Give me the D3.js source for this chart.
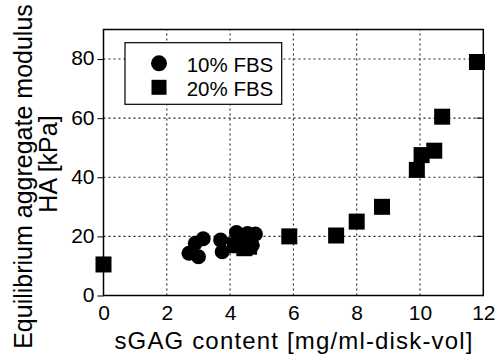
<!DOCTYPE html>
<html><head><meta charset="utf-8">
<script src="https://cdn.jsdelivr.net/npm/d3@7"></script>
<style>body{margin:0;background:#fff}svg{display:block}text{font-family:"Liberation Sans",Arial,sans-serif;fill:#000}</style>
</head><body><div id="chart"></div>
<script>
const seriesNames = ["10% FBS", "20% FBS"];
const fbs10 = [[2.7,14.3],[3.0,13.1],[2.9,17.7],[3.15,19.2],[3.7,18.8],[3.75,14.8],[4.2,21.3],[4.35,19.0],[4.5,20.0],[4.8,20.8],[4.7,17.0],[4.55,21.0]];
const fbs20 = [[0.0,10.5],[4.15,17.0],[4.45,16.0],[4.6,16.5],[5.87,20.0],[7.35,20.3],[8.0,25.0],[8.8,30.0],[9.9,42.5],[10.05,47.5],[10.45,49.0],[10.7,60.5],[11.8,79.0]];
const xTicks = [0,2,4,6,8,10,12];
const yTicks = [0,20,40,60,80];
const xTitle = "sGAG content [mg/ml-disk-vol]";
const yTitle = ["Equilibrium aggregate modulus", "HA [kPa]"];

const W = 495, H = 358;
const L = 103.5, R = 483.3, T = 29.5, B = 295.5;
const svg = d3.select("#chart").append("svg").attr("width", W).attr("height", H);
const x = d3.scaleLinear().domain([0,12]).range([L,R]);
const y = d3.scaleLinear().domain([0,90]).range([B,T]);

// grid
const g = svg.append("g");
g.selectAll(".gx").data(xTicks.filter(d=>d>0&&d<12)).enter().append("line")
  .attr("x1",d=>x(d)).attr("x2",d=>x(d)).attr("y1",B).attr("y2",T)
  .attr("stroke","#222").attr("stroke-width",1.1).attr("stroke-dasharray","2,3");
g.selectAll(".gy").data(yTicks.filter(d=>d>0)).enter().append("line")
  .attr("x1",L).attr("x2",R).attr("y1",d=>y(d)).attr("y2",d=>y(d))
  .attr("stroke","#222").attr("stroke-width",1.1).attr("stroke-dasharray","2,3");
// right inner ticks
g.selectAll(".rt").data(yTicks.filter(d=>d>0)).enter().append("line")
  .attr("x1",R-7).attr("x2",R).attr("y1",d=>y(d)).attr("y2",d=>y(d))
  .attr("stroke","#000").attr("stroke-width",1);

// axes
const yAxis = d3.axisLeft(y).tickValues(yTicks).tickSize(6).tickPadding(3);
const ya = svg.append("g").attr("transform",`translate(${L},0)`).call(yAxis);
ya.select(".domain").remove();
ya.selectAll("text").style("font-size","21px").attr("dy","0.28em");
ya.selectAll("line").attr("stroke","#000");

const xAxis = d3.axisBottom(x).tickValues(xTicks).tickSize(0).tickPadding(10);
const xa = svg.append("g").attr("transform",`translate(0,${B})`).call(xAxis);
xa.select(".domain").remove();
xa.selectAll("text").style("font-size","21px").attr("dy","0.71em");

// frame
svg.append("rect").attr("x",L).attr("y",T).attr("width",R-L).attr("height",B-T)
  .attr("fill","none").attr("stroke","#000").attr("stroke-width",1.5);

// points
svg.append("g").selectAll("circle").data(fbs10).enter().append("circle")
  .attr("cx",d=>x(d[0])).attr("cy",d=>y(d[1])).attr("r",7.5).attr("fill","#000");
const s = 16;
svg.append("g").selectAll("rect").data(fbs20).enter().append("rect")
  .attr("x",d=>x(d[0])-s/2).attr("y",d=>y(d[1])-s/2).attr("width",s).attr("height",s).attr("fill","#000");

// legend
const lg = svg.append("g");
lg.append("rect").attr("x",125).attr("y",42.7).attr("width",156.7).attr("height",61.6)
  .attr("fill","#fff").attr("stroke","#000").attr("stroke-width",1.2);
lg.append("circle").attr("cx",159).attr("cy",63.3).attr("r",8).attr("fill","#000");
lg.append("rect").attr("x",159-7.5).attr("y",87.3-7.5).attr("width",15).attr("height",15).attr("fill","#000");
lg.selectAll("text").data(seriesNames).enter().append("text")
  .attr("x",186.7).attr("y",(d,i)=>71.5+i*24).style("font-size","20.5px").text(d=>d);

// titles
svg.append("text").attr("x",(L+R)/2+0).attr("y",349).attr("text-anchor","middle")
  .style("font-size","24px").attr("textLength",358).attr("lengthAdjust","spacing").text(xTitle);
svg.append("text").attr("transform","translate(31.5,176.5) rotate(-90)").attr("text-anchor","middle")
  .style("font-size","25px").text(yTitle[0]);
svg.append("text").attr("transform","translate(56.5,164) rotate(-90)").attr("text-anchor","middle")
  .style("font-size","25px").text(yTitle[1]);
</script></body></html>
